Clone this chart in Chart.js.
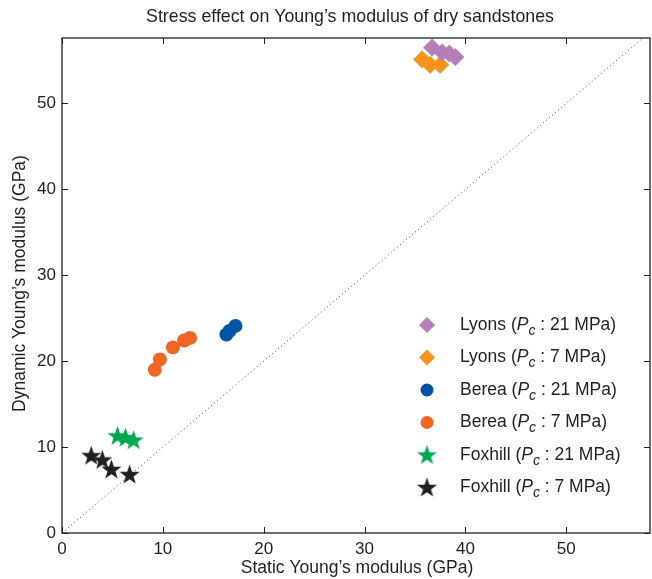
<!DOCTYPE html>
<html>
<head>
<meta charset="utf-8">
<script src="https://cdn.jsdelivr.net/npm/chart.js@4.4.0/dist/chart.umd.min.js"></script>
<style>
  body { margin: 0; background: #fff; }
  canvas { display: block; }
</style>
</head>
<body>
<canvas id="chart" width="652" height="579"></canvas>
<script>
// values (GPa)
const lyons21X = [36.7, 37.7, 38.4, 39.0];
const lyons21Y = [56.5, 55.9, 55.8, 55.4];
const lyons7X = [35.7, 36.5, 37.5];
const lyons7Y = [55.1, 54.5, 54.5];
const berea21X = [16.3, 16.6, 17.2];
const berea21Y = [23.1, 23.5, 24.1];
const berea7X = [9.2, 9.7, 11.0, 12.1, 12.7];
const berea7Y = [19.0, 20.2, 21.6, 22.4, 22.7];
const fox21X = [5.5, 6.3, 7.1];
const fox21Y = [11.3, 11.1, 10.8];
const fox7X = [2.9, 4.0, 4.9, 6.7];
const fox7Y = [9.0, 8.5, 7.4, 6.8];

const rockNames = ["Lyons", "Lyons", "Berea", "Berea", "Foxhill", "Foxhill"];
const pressures = [21, 7, 21, 7, 21, 7];
const xTicks = [0, 10, 20, 30, 40, 50];
const yTicks = [0, 10, 20, 30, 40, 50];
const axisMax = [58.3, 57.6];
const diagLine = [0, 58.3];

const FONT = "'Liberation Sans', Arial, Helvetica, sans-serif";
const INK = "#231f20";

function starImage(color, r) {
  const c = document.createElement("canvas");
  const s = Math.ceil(r * 2 + 2);
  c.width = s; c.height = s;
  const g = c.getContext("2d");
  g.beginPath();
  for (let i = 0; i < 10; i++) {
    const rr = i % 2 === 0 ? r : r * 0.4;
    const a = -Math.PI / 2 + i * Math.PI / 5;
    const px = s / 2 + rr * Math.cos(a), py = s / 2 + 0.6 + rr * Math.sin(a);
    i === 0 ? g.moveTo(px, py) : g.lineTo(px, py);
  }
  g.closePath();
  g.fillStyle = color;
  g.fill();
  return c;
}

const pts = (xs, ys) => xs.map((x, i) => ({ x: x, y: ys[i] }));

const styles = [
  { color: "#b77fb9", pointStyle: "rectRot", radius: 9 },
  { color: "#f7941e", pointStyle: "rectRot", radius: 9 },
  { color: "#0054a6", pointStyle: "circle", radius: 7 },
  { color: "#f26522", pointStyle: "circle", radius: 7 },
  { color: "#00a651", pointStyle: starImage("#00a651", 10.5), radius: 10 },
  { color: INK, pointStyle: starImage(INK, 10.5), radius: 10 }
];
const seriesData = [
  pts(lyons21X, lyons21Y), pts(lyons7X, lyons7Y),
  pts(berea21X, berea21Y), pts(berea7X, berea7Y),
  pts(fox21X, fox21Y), pts(fox7X, fox7Y)
];

const datasets = seriesData.map((d, i) => ({
  label: rockNames[i] + " (Pc: " + pressures[i] + " MPa)",
  data: d,
  pointStyle: styles[i].pointStyle,
  pointRadius: styles[i].radius,
  pointHoverRadius: styles[i].radius,
  pointBackgroundColor: styles[i].color,
  pointBorderColor: styles[i].color,
  pointBorderWidth: 0,
  showLine: false,
  order: 1
}));
datasets.push({
  type: "line",
  label: "y = x",
  data: diagLine.map(v => ({ x: v, y: v })),
  borderColor: "#444",
  borderWidth: 1,
  borderDash: [1, 3],
  pointRadius: 0,
  fill: false,
  order: 10
});

const framePlugin = {
  id: "frame",
  afterDraw(chart) {
    const ctx = chart.ctx;
    const a = chart.chartArea;
    const xs = chart.scales.x, ys = chart.scales.y;
    ctx.save();
    ctx.strokeStyle = INK;
    ctx.lineWidth = 1.3;
    ctx.strokeRect(a.left, a.top, a.right - a.left, a.bottom - a.top);
    ctx.lineWidth = 1;
    ctx.beginPath();
    xTicks.forEach(v => {
      const px = Math.round(xs.getPixelForValue(v)) + 0.5;
      ctx.moveTo(px, a.bottom); ctx.lineTo(px, a.bottom - 6);
      ctx.moveTo(px, a.top); ctx.lineTo(px, a.top + 6);
    });
    yTicks.forEach(v => {
      const py = Math.round(ys.getPixelForValue(v)) + 0.5;
      ctx.moveTo(a.left, py); ctx.lineTo(a.left + 6, py);
      ctx.moveTo(a.right, py); ctx.lineTo(a.right - 6, py);
    });
    ctx.stroke();

    // titles
    ctx.fillStyle = INK;
    ctx.textAlign = "center";
    ctx.textBaseline = "middle";
    ctx.font = "17.8px " + FONT;
    ctx.fillText("Stress effect on Young\u2019s modulus of dry sandstones", (a.left + a.right) / 2 - 6, 17);
    ctx.font = "17.5px " + FONT;
    ctx.fillText("Static Young\u2019s modulus (GPa)", (a.left + a.right) / 2 + 1, 568);
    ctx.save();
    ctx.translate(20, (a.top + a.bottom) / 2 - 2);
    ctx.rotate(-Math.PI / 2);
    ctx.fillText("Dynamic Young\u2019s modulus (GPa)", 0, 0);
    ctx.restore();

    // legend
    const lx = a.left + 365, tx = a.left + 398;
    let ly = 325;
    seriesData.forEach((d, i) => {
      const st = styles[i];
      const r = st.pointStyle === "rectRot" ? 8 : (st.pointStyle === "circle" ? 6.5 : st.radius);
      ctx.fillStyle = st.color;
      ctx.strokeStyle = st.color;
      Chart.helpers.drawPoint(ctx, { pointStyle: st.pointStyle, radius: r, borderWidth: 0, rotation: 0 }, lx, ly);
      ctx.fillStyle = INK;
      ctx.textAlign = "left";
      ctx.textBaseline = "middle";
      let x = tx;
      const parts = [
        [rockNames[i] + " (", "17.5px " + FONT, 0],
        ["P", "italic 17.5px " + FONT, 0],
        ["c", "italic 14px " + FONT, 6],
        [" : " + pressures[i] + " MPa)", "17.5px " + FONT, 0]
      ];
      parts.forEach(p => {
        ctx.font = p[1];
        ctx.fillText(p[0], x, ly + p[2]);
        x += ctx.measureText(p[0]).width;
      });
      ly += 32.5;
    });
    ctx.restore();
  }
};

new Chart(document.getElementById("chart"), {
  type: "scatter",
  data: { datasets: datasets },
  options: {
    responsive: false,
    animation: false,
    events: [],
    layout: { autoPadding: false, padding: { left: 0, right: 2, top: 38, bottom: 0 } },
    plugins: { legend: { display: false }, title: { display: false }, tooltip: { enabled: false } },
    scales: {
      x: {
        type: "linear", min: 0, max: axisMax[0],
        grid: { display: false, drawTicks: false },
        border: { display: false },
        afterBuildTicks: s => { s.ticks = xTicks.map(v => ({ value: v })); },
        afterFit: s => { s.height = 46; s.paddingLeft = 0; s.paddingRight = 0; },
        ticks: { color: INK, padding: 6, font: { family: FONT, size: 17 }, maxRotation: 0 }
      },
      y: {
        type: "linear", min: 0, max: axisMax[1],
        grid: { display: false, drawTicks: false },
        border: { display: false },
        afterBuildTicks: s => { s.ticks = yTicks.map(v => ({ value: v })); },
        afterFit: s => { s.width = 62; s.paddingTop = 0; s.paddingBottom = 0; },
        ticks: { color: INK, padding: 6, font: { family: FONT, size: 17 } }
      }
    }
  },
  plugins: [framePlugin]
});
</script>
</body>
</html>
